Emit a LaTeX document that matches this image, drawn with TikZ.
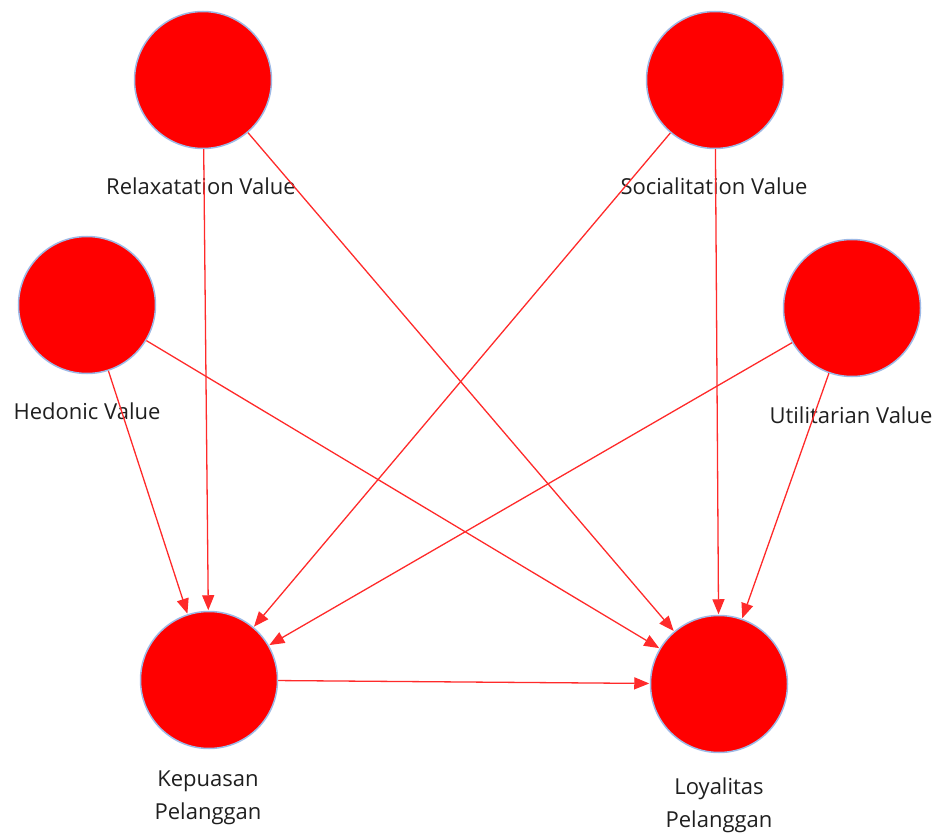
\documentclass[tikz,border=0pt]{standalone}
\usepackage{fontspec}
\setmainfont{Open Sans}
\usetikzlibrary{arrows.meta}
\definecolor{ring}{HTML}{9DB9E6}
\definecolor{edge}{HTML}{FF2A2A}
\tikzset{
  construct/.style={circle, draw=ring, line width=1.5pt, fill=red, minimum size=137pt, inner sep=0pt},
  lbl/.style={font=\fontsize{22}{33}\selectfont, text=black!88, align=center, inner sep=0pt},
  path/.style={draw=edge, line width=1.3pt, -{Triangle[length=15pt,width=12pt]}, shorten >=0.5pt}
}
\begin{document}
\begin{tikzpicture}[x=1pt,y=1pt]
\useasboundingbox (0,0) rectangle (937,-834);
\node[construct] (rel) at (203,-80) {};
\node[construct] (soc) at (715,-80) {};
\node[construct] (hed) at (87,-305) {};
\node[construct] (uti) at (852,-308) {};
\node[construct] (kep) at (209,-680) {};
\node[construct] (loy) at (719,-684) {};
\node[lbl] (lrel) at (201,-186) {Relaxatation Value};
\node[lbl] (lsoc) at (714,-186) {Socialitation Value};
\node[lbl] (lhed) at (87,-411) {Hedonic Value};
\node[lbl] (luti) at (851,-415) {Utilitarian Value};
\node[lbl] (lkep) at (208,-798) {Kepuasan\\Pelanggan};
\node[lbl] (lloy) at (719,-805) {Loyalitas\\Pelanggan};
\draw[path] (rel) -- (kep);
\draw[path] (rel) -- (loy);
\draw[path] (soc) -- (kep);
\draw[path] (soc) -- (loy);
\draw[path] (hed) -- (kep);
\draw[path] (hed) -- (loy);
\draw[path] (uti) -- (kep);
\draw[path] (uti) -- (loy);
\draw[path] (kep) -- (loy);
\end{tikzpicture}
\end{document}
